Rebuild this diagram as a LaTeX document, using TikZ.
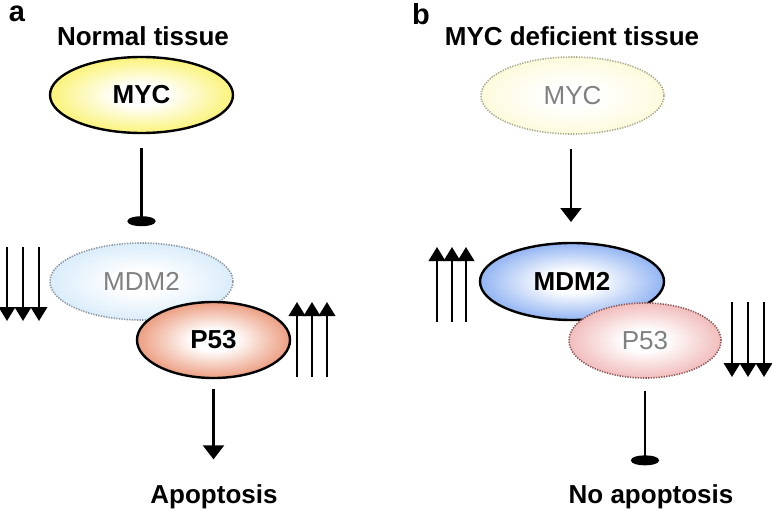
\documentclass[tikz,border=0pt]{standalone}
\usepackage{fontspec}
\setmainfont{Liberation Sans}
\usetikzlibrary{shapes.geometric,arrows.meta}
\definecolor{mycY}{RGB}{248,236,40}
\definecolor{mycF}{RGB}{252,249,200}
\definecolor{mdmF}{RGB}{196,226,248}
\definecolor{mdmB}{RGB}{80,135,235}
\definecolor{p53O}{RGB}{224,98,52}
\definecolor{p53F}{RGB}{234,148,148}
\definecolor{fadetext}{RGB}{128,128,128}
\definecolor{dotgray}{RGB}{140,148,158}
\definecolor{dottan}{RGB}{170,170,140}
\pgfdeclareradialshading{shY}{\pgfpoint{0bp}{0bp}}{color(0bp)=(white); color(7bp)=(white); color(36bp)=(mycY); color(50bp)=(mycY)}
\pgfdeclareradialshading{shYF}{\pgfpoint{0bp}{0bp}}{color(0bp)=(white); color(7bp)=(white); color(36bp)=(mycF); color(50bp)=(mycF)}
\pgfdeclareradialshading{shBF}{\pgfpoint{0bp}{0bp}}{color(0bp)=(white); color(7bp)=(white); color(36bp)=(mdmF); color(50bp)=(mdmF)}
\pgfdeclareradialshading{shB}{\pgfpoint{0bp}{0bp}}{color(0bp)=(white); color(7bp)=(white); color(36bp)=(mdmB); color(50bp)=(mdmB)}
\pgfdeclareradialshading{shO}{\pgfpoint{0bp}{0bp}}{color(0bp)=(white); color(7bp)=(white); color(36bp)=(p53O); color(50bp)=(p53O)}
\pgfdeclareradialshading{shP}{\pgfpoint{0bp}{0bp}}{color(0bp)=(white); color(7bp)=(white); color(36bp)=(p53F); color(50bp)=(p53F)}
\tikzset{
  blob/.style={ellipse, inner sep=0pt, font=\fontsize{26}{30}\selectfont},
  active/.style={blob, draw=black, line width=2.4pt, font=\fontsize{26}{30}\selectfont\bfseries},
  faded/.style={blob, draw=#1, line width=1.6pt, dash pattern=on 1.3pt off 1.3pt, text=fadetext},
  title/.style={font=\fontsize{26}{30}\selectfont\bfseries},
  panel/.style={font=\fontsize{29}{32}\selectfont\bfseries},
  act/.style={line width=2.2pt, -{Triangle[width=21pt,length=14pt]}},
  inhib/.style={line width=2.2pt, -{Ellipse[width=28pt,length=10pt]}},
  side/.style={line width=2.2pt, -{Triangle[width=16.5pt,length=14pt]}}
}
\begin{document}
\begin{tikzpicture}[x=1pt,y=-1pt]
\useasboundingbox (0,0) rectangle (772,514);
% panel a
\node[panel] (la) at (17,14) {a};
\node[title] (ta) at (143,36) {Normal tissue};
\node[active, shading=shY, minimum width=183pt, minimum height=76pt] (myca) at (141.5,95) {MYC};
\node[faded=dotgray, shading=shBF, minimum width=183pt, minimum height=77pt] (mdma) at (141.5,281.5) {MDM2};
\node[active, shading=shO, minimum width=153pt, minimum height=76pt] (p53a) at (213.5,340) {P53};
\node[title] (apo) at (214,497) {Apoptosis};
\draw[inhib, shorten <=14pt, shorten >=16pt] (myca) -- (myca |- mdma.north);
\draw[act, shorten <=10pt, shorten >=22pt] (p53a) -- (p53a |- apo.north);
\foreach \x in {7,23,39} \draw[side] (\x,247) -- (\x,321);
\foreach \x in {297,312,327} \draw[side] (\x,377) -- (\x,302);
% panel b
\node[panel] (lb) at (421,14) {b};
\node[title] (tb) at (572,36) {MYC deficient tissue};
\node[faded=dottan, shading=shYF, minimum width=183pt, minimum height=77pt] (mycb) at (572.5,95.5) {MYC};
\node[active, shading=shB, minimum width=184pt, minimum height=77pt] (mdmb) at (572,281.5) {MDM2};
\node[faded=p53F!60!black, shading=shP, minimum width=152pt, minimum height=75pt] (p53b) at (645,340.5) {P53};
\node[title] (noapo) at (651,497) {No apoptosis};
\draw[act, shorten <=14pt, shorten >=21pt] (mycb.south -| 571,0) -- (571,243);
\draw[inhib, shorten <=12pt, shorten >=16pt] (p53b) -- (p53b |- noapo.north);
\foreach \x in {437,452,466} \draw[side] (\x,322) -- (\x,247);
\foreach \x in {732,748,764} \draw[side] (\x,302) -- (\x,377);
\end{tikzpicture}
\end{document}
